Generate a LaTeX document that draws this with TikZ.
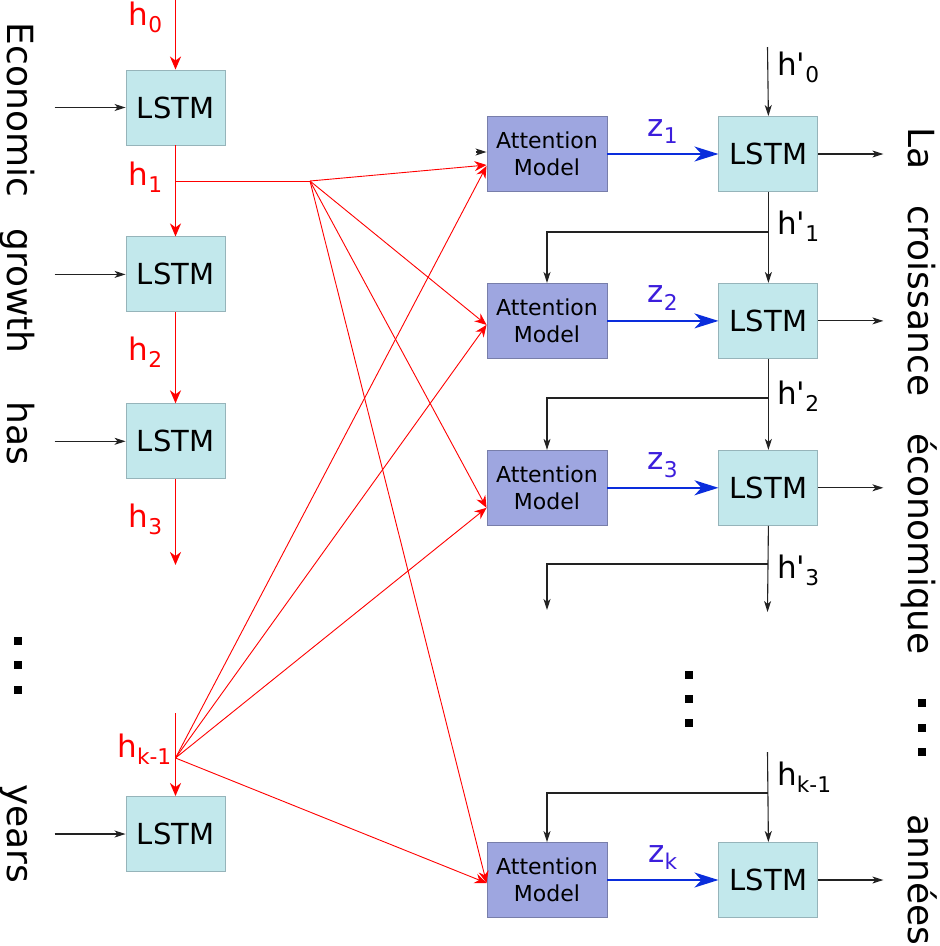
\documentclass[tikz,border=0pt]{standalone}
\usepackage{fontspec}
\setmainfont{DejaVu Sans}
\usetikzlibrary{arrows.meta,positioning,calc}
\definecolor{lstmfill}{RGB}{194,232,236}
\definecolor{lstmedge}{RGB}{150,180,186}
\definecolor{attfill}{RGB}{158,166,224}
\definecolor{attedge}{RGB}{120,126,170}
\definecolor{encred}{RGB}{255,0,0}
\definecolor{zblue}{RGB}{10,45,220}
\definecolor{zlabel}{RGB}{60,30,220}
\definecolor{lnk}{RGB}{34,34,34}
\tikzset{
  lstm/.style={
    draw=lstmedge, fill=lstmfill, line width=0.9pt, inner sep=0pt,
    minimum width=99pt, minimum height=75pt, font=\fontsize{29}{34}\selectfont
  },
  attn/.style={
    draw=attedge, fill=attfill, line width=0.9pt, inner sep=0pt, align=center,
    minimum width=120pt, minimum height=75pt, font=\fontsize{22}{27}\selectfont
  },
  arr/.style={-{Stealth[length=11pt,width=7pt,inset=3pt]}, draw=lnk, line width=1.1pt},
  rarr/.style={-{Stealth[length=13pt,width=11pt,inset=4pt]}, draw=encred, line width=1.8pt},
  rfan/.style={-{Stealth[length=12pt,width=10pt,inset=4pt]}, draw=encred, line width=0.9pt},
  barr/.style={-{Stealth[length=24pt,width=15pt,inset=7pt]}, draw=zblue, line width=1.8pt},
  hlab/.style={font=\fontsize{31}{36}\selectfont, inner sep=0pt},
  zlab/.style={hlab, text=zlabel, anchor=base, yshift=18pt},
  word/.style={rotate=-90, anchor=base, font=\fontsize{36}{40}\selectfont, inner sep=0pt},
  sqdot/.style={fill=black, minimum size=8pt, inner sep=0pt}
}
\begin{document}
\begin{tikzpicture}[x=1pt, y=-1pt, node distance=91pt and 111pt]
  \useasboundingbox (0,0) rectangle (940,946);

  % encoder
  \node[lstm] (enc1) at (175.5,107.5) {LSTM};
  \node[lstm, below=of enc1] (enc2) {LSTM};
  \node[lstm, below=of enc2] (enc3) {LSTM};
  \node[lstm] (enck) at (175.5,834) {LSTM};

  % decoder
  \node[attn] (att1) at (547,154) {Attention\\Model};
  \node[lstm, right=of att1] (dec1) {LSTM};
  \node[attn, below=of att1] (att2) {Attention\\Model};
  \node[lstm, right=of att2] (dec2) {LSTM};
  \node[attn, below=of att2] (att3) {Attention\\Model};
  \node[lstm, right=of att3] (dec3) {LSTM};
  \node[attn] (attk) at (547,880) {Attention\\Model};
  \node[lstm, right=of attk] (deck) {LSTM};

  \coordinate (h0) at (175.5,0);
  \coordinate (h1) at (175.5,181);
  \coordinate (h1f) at (310,181);
  \coordinate (h3) at (175.5,565);
  \coordinate (hktop) at (175.5,713);
  \coordinate (hk) at (175.5,758);

  \draw[rarr] (h0) -- (enc1.north);
  \draw[rarr] (enc1.south) -- (enc2.north);
  \draw[rarr] (enc2.south) -- (enc3.north);
  \draw[rarr] (enc3.south) -- (h3);
  \draw[rarr] (hktop) -- (enck.north);

  \node[hlab, text=encred, anchor=base east] (lh0) at (163,25) {h\textsubscript{0}};
  \node[hlab, text=encred, anchor=base east] (lh1) at (163,185) {h\textsubscript{1}};
  \node[hlab, text=encred, anchor=base east] (lh2) at (163,360) {h\textsubscript{2}};
  \node[hlab, text=encred, anchor=base east] (lh3) at (163,527) {h\textsubscript{3}};
  \node[hlab, text=encred, anchor=base east] (lhk) at (172,757) {h\textsubscript{k-1}};

  % attention fan
  \draw[encred, line width=0.9pt] (h1) -- (h1f);
  \draw[rfan] (h1f) -- ([yshift=-11pt]att1.west);
  \draw[rfan] (h1f) -- ([yshift=-4pt]att2.west);
  \draw[rfan] (h1f) -- ([yshift=-20pt]att3.west);
  \draw[rfan] (h1f) -- ([yshift=-3pt]attk.west);
  \draw[rfan] (hk) -- ([yshift=-12pt]att1.west);
  \draw[rfan] (hk) -- ([yshift=-4pt]att2.west);
  \draw[rfan] (hk) -- ([yshift=-20pt]att3.west);
  \draw[rfan] (hk) -- ([yshift=-3pt]attk.west);
  \draw[arr] ([xshift=-11pt,yshift=2pt]att1.west) -- ([yshift=2pt]att1.west);

  % context vectors
  \draw[barr] (att1) -- node[zlab] (lz1) {z\textsubscript{1}} (dec1);
  \draw[barr] (att2) -- node[zlab] (lz2) {z\textsubscript{2}} (dec2);
  \draw[barr] (att3) -- node[zlab] (lz3) {z\textsubscript{3}} (dec3);
  \draw[barr] (attk) -- node[zlab] (lzk) {z\textsubscript{k}} (deck);

  % decoder states
  \coordinate (hd0) at (767.5,47);
  \coordinate (hd1) at (767.5,232);
  \coordinate (hd2) at (767.5,398);
  \coordinate (hd3) at (767.5,564);
  \coordinate (hd3end) at (767.5,612);
  \coordinate (att4top) at (547,610);
  \coordinate (hdktop) at (767.5,752);
  \coordinate (hdk) at (767.5,793);

  \draw[arr] (hd0) -- (dec1.north);
  \draw[arr] (dec1.south) -- (dec2.north);
  \draw[arr] (dec2.south) -- (dec3.north);
  \draw[arr] (dec3.south) -- (hd3end);
  \draw[arr] (hdktop) -- (deck.north);
  \draw[arr] (hd1) -| (att2.north);
  \draw[arr] (hd2) -| (att3.north);
  \draw[arr] (hd3) -| (att4top);
  \draw[arr] (hdk) -| (attk.north);

  \node[hlab, anchor=base west] (lhd0) at (777,75) {h\textquotesingle\textsubscript{0}};
  \node[hlab, anchor=base west] (lhd1) at (777,234) {h\textquotesingle\textsubscript{1}};
  \node[hlab, anchor=base west] (lhd2) at (777,404) {h\textquotesingle\textsubscript{2}};
  \node[hlab, anchor=base west] (lhd3) at (777,578) {h\textquotesingle\textsubscript{3}};
  \node[hlab, anchor=base west] (lhdk) at (777,785) {h\textsubscript{k-1}};

  % inputs and outputs
  \foreach \n in {enc1,enc2,enc3,enck}
    \draw[arr] ([xshift=-71pt]\n.west) -- (\n.west);
  \foreach \n in {dec1,dec2,dec3,deck}
    \draw[arr] (\n.east) -- ++(65,0);

  \node[word] (w1) at (8,110) {Economic};
  \node[word] (w2) at (8,291) {growth};
  \node[word] (w3) at (8,433) {has};
  \node[word] (w4) at (8,834) {years};
  \node[word] (o1) at (908,149) {La};
  \node[word] (o2) at (908,301) {croissance};
  \node[word] (o3) at (908,544) {économique};
  \node[word] (o4) at (908,880) {années};

  \foreach \y in {641,665,690}
    \node[sqdot] (l\y) at (18,\y) {};
  \foreach \y in {675,699,723}
    \node[sqdot] (m\y) at (689,\y) {};
  \foreach \y in {703,728,752}
    \node[sqdot] (r\y) at (922,\y) {};
\end{tikzpicture}
\end{document}
